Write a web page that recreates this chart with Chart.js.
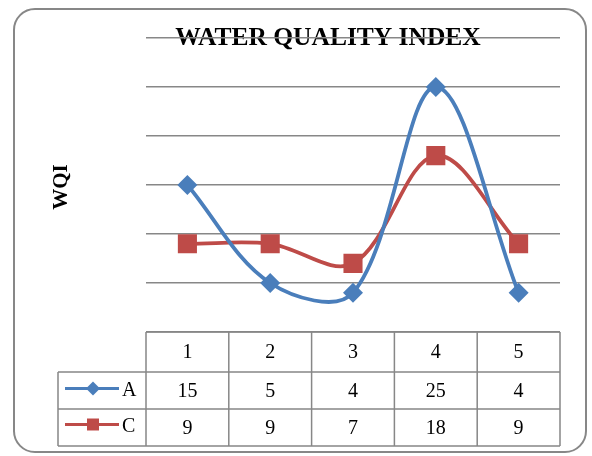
<!DOCTYPE html>
<html>
<head>
<meta charset="utf-8">
<script src="https://cdn.jsdelivr.net/npm/chart.js@4.4.1/dist/chart.umd.min.js"></script>
<style>
  body { margin: 0; background: #fff; }
  #wrap { position: relative; width: 592px; height: 456px; overflow: hidden; }
  #frame {
    position: absolute; left: 13px; top: 8px; width: 574px; height: 445px;
    box-sizing: border-box; border: 2px solid #878787; border-radius: 22px;
  }
  #chart { position: absolute; left: 0; top: 0; }
</style>
</head>
<body>
<div id="wrap">
  <div id="frame"></div>
  <canvas id="chart" width="592" height="456"></canvas>
</div>
<script>
// --- Data ---
const categories = ['1', '2', '3', '4', '5'];
const seriesA = [15, 5, 4, 25, 4];
const seriesC = [9, 9, 7, 18, 9];
const yTicks = [0, 5, 10, 15, 20, 25, 30];

const BLUE = '#4A7EBB';
const RED = '#BE4B48';
const GRID = '#878787';

// Title and axis title drawn under the grid, like the original
const titlePlugin = {
    id: 'titles',
    beforeDraw(chart) {
        const ctx = chart.ctx;
        ctx.save();
        ctx.fillStyle = '#000';
        ctx.font = 'bold 25.5px "Liberation Serif"';
        ctx.textAlign = 'center';
        ctx.textBaseline = 'alphabetic';
        ctx.fillText('WATER QUALITY INDEX', 328, 45);

        ctx.translate(62, 187);
        ctx.rotate(-Math.PI / 2);
        ctx.font = 'bold 21px "Liberation Serif"';
        ctx.textBaseline = 'middle';
        ctx.fillText('WQI', 0, 0);
        ctx.restore();
    }
};

// Data table under the plot, columns taken from the x scale
const tablePlugin = {
    id: 'dataTable',
    afterDraw(chart) {
        const ctx = chart.ctx;
        const x = chart.scales.x;
        const area = chart.chartArea;
        const step = x.getPixelForValue(1) - x.getPixelForValue(0);
        const top = area.bottom;
        const rowA = 372, rowC = 409, bottom = 446;
        const legendLeft = 58;

        ctx.save();
        ctx.strokeStyle = GRID;
        ctx.lineWidth = 1.5;
        ctx.beginPath();
        // horizontal lines
        ctx.moveTo(area.left, top); ctx.lineTo(area.right, top);
        [rowA, rowC, bottom].forEach(y => { ctx.moveTo(legendLeft, y); ctx.lineTo(area.right, y); });
        // vertical lines
        ctx.moveTo(legendLeft, rowA); ctx.lineTo(legendLeft, bottom);
        ctx.moveTo(area.left, top); ctx.lineTo(area.left, bottom);
        categories.forEach((c, i) => {
            const xr = x.getPixelForValue(i) + step / 2;
            ctx.moveTo(xr, top); ctx.lineTo(xr, bottom);
        });
        ctx.stroke();

        ctx.fillStyle = '#000';
        ctx.font = '20px "Liberation Serif"';
        ctx.textAlign = 'center';
        ctx.textBaseline = 'middle';
        const midHead = (top + rowA) / 2 + 1;
        const midA = (rowA + rowC) / 2 + 1;
        const midC = (rowC + bottom) / 2 + 1;
        categories.forEach((c, i) => {
            const cx = x.getPixelForValue(i);
            ctx.fillText(c, cx, midHead);
            ctx.fillText(String(seriesA[i]), cx, midA);
            ctx.fillText(String(seriesC[i]), cx, midC);
        });

        // legend keys
        const keys = [
            { label: 'A', color: BLUE, y: midA - 3, style: 'diamond' },
            { label: 'C', color: RED, y: midC - 4, style: 'square' }
        ];
        keys.forEach(k => {
            ctx.strokeStyle = k.color;
            ctx.fillStyle = k.color;
            ctx.lineWidth = 3;
            ctx.beginPath();
            ctx.moveTo(65, k.y); ctx.lineTo(119, k.y);
            ctx.stroke();
            ctx.beginPath();
            if (k.style === 'diamond') {
                ctx.moveTo(93, k.y - 7); ctx.lineTo(100, k.y); ctx.lineTo(93, k.y + 7); ctx.lineTo(86, k.y);
                ctx.closePath();
            } else {
                ctx.rect(87, k.y - 6, 12, 12);
            }
            ctx.fill();
            ctx.fillStyle = '#000';
            ctx.textAlign = 'left';
            ctx.fillText(k.label, 122, k.y + 2);
        });
        ctx.restore();
    }
};

const chart = new Chart(document.getElementById('chart'), {
    type: 'line',
    data: {
        labels: categories,
        datasets: [{
            label: 'A',
            data: seriesA,
            borderColor: BLUE,
            backgroundColor: BLUE,
            borderWidth: 3.8,
            tension: 0.35,
            pointStyle: 'rectRot',
            pointRadius: 10,
            pointBorderWidth: 0
        }, {
            label: 'C',
            data: seriesC,
            borderColor: RED,
            backgroundColor: RED,
            borderWidth: 3.8,
            tension: 0.35,
            pointStyle: 'rect',
            pointRadius: 13.5,
            pointBorderWidth: 0
        }]
    },
    options: {
        responsive: false,
        animation: false,
        devicePixelRatio: 1,
        layout: { padding: { left: 146, right: 32, top: 38, bottom: 124 } },
        plugins: {
            legend: { display: false },
            title: { display: false },
            tooltip: { enabled: false }
        },
        scales: {
            x: {
                type: 'category',
                offset: true,
                display: false
            },
            y: {
                min: yTicks[0],
                max: yTicks[yTicks.length - 1],
                afterBuildTicks: scale => { scale.ticks = yTicks.map(v => ({ value: v })); },
                ticks: { display: false },
                border: { display: false },
                grid: { color: GRID, lineWidth: 1.5, drawTicks: false }
            }
        }
    },
    plugins: [titlePlugin, tablePlugin]
});
</script>
</body>
</html>
